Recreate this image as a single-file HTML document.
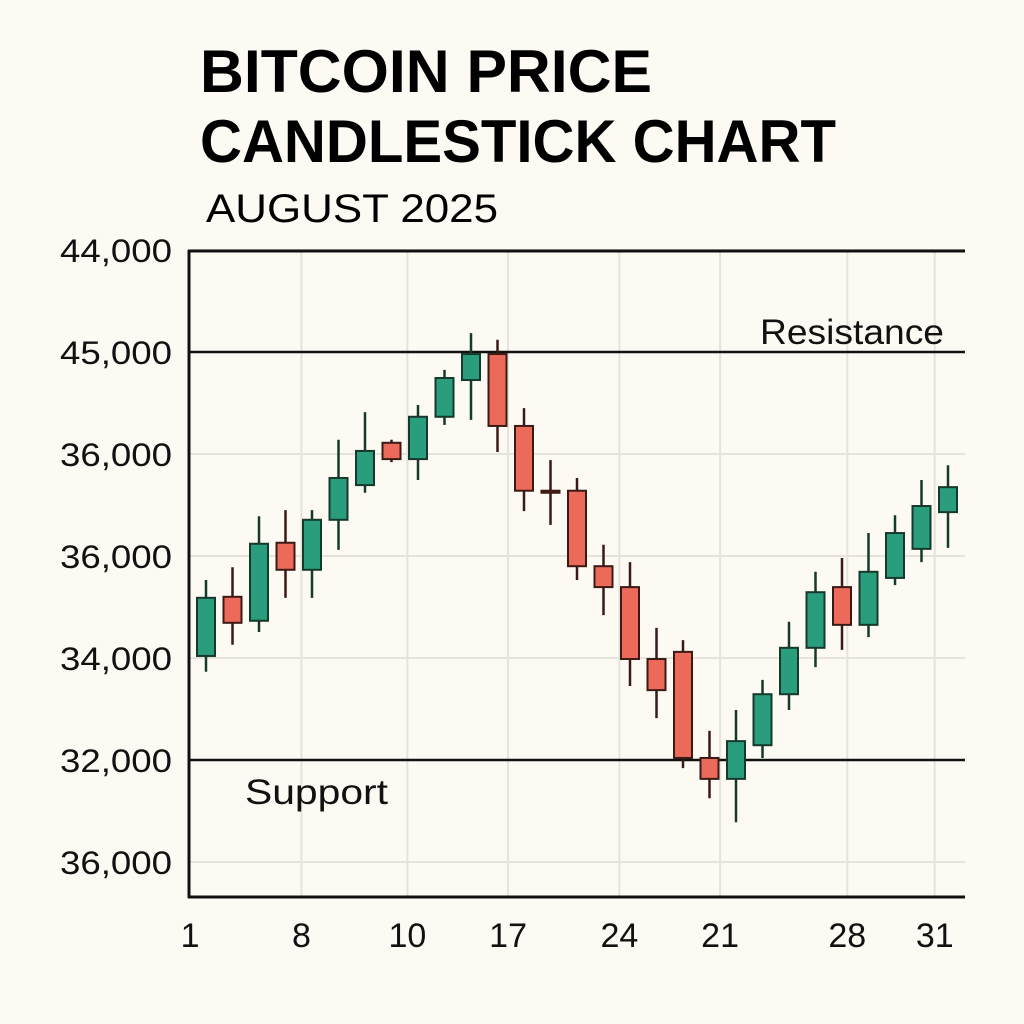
<!DOCTYPE html>
<html><head><meta charset="utf-8"><style>
html,body{margin:0;padding:0;background:#fdfaf4;}
svg{display:block;font-family:"Liberation Sans","DejaVu Sans",sans-serif;}
</style></head><body>
<svg id="chart" width="1024" height="1024" viewBox="0 0 1024 1024">
<rect x="0" y="0" width="1024" height="1024" fill="#fdfaf4"/>
<text x="200" y="92" font-size="60" font-weight="bold" fill="#000" textLength="452" lengthAdjust="spacingAndGlyphs">BITCOIN PRICE</text>
<text x="200" y="162" font-size="60" font-weight="bold" fill="#000" textLength="636" lengthAdjust="spacingAndGlyphs">CANDLESTICK CHART</text>
<text x="206" y="222" font-size="40" fill="#000" textLength="292" lengthAdjust="spacingAndGlyphs">AUGUST 2025</text>
<g id="grid"></g>
<g id="axes"></g>
<g id="candles"></g>
<g id="labels"></g>
</svg>
<script>
// y tick internal values and printed labels
const yTickValues = [42000, 40000, 38000, 36000, 34000, 32000, 30000];
const yTickLabels = ["44,000", "45,000", "36,000", "36,000", "34,000", "32,000", "36,000"];
// x tick positions (in candle index units) and labels
const xTickIndex = [-0.6, 3.6, 7.6, 11.4, 15.6, 19.4, 24.2, 27.5];
const xTickLabels = ["1", "8", "10", "17", "24", "21", "28", "31"];
// OHLC series
const opens  = [34040,35200,34730,36260,35730,36710,37390,38220,37900,38730,39450,39960,38550,37280,37280,35800,35390,33980,34120,32040,31630,32290,33290,34200,35390,34650,35570,36140,36860];
const closes = [35180,34690,36240,35730,36710,37530,38060,37900,38730,39490,39960,38550,37280,37240,35800,35390,33980,33370,32040,31630,32370,33290,34200,35290,34650,35690,36450,36980,37350];
const highs  = [35530,35780,36780,36900,36900,38280,38820,38280,38960,39650,40370,40240,38900,37880,37530,36220,35880,34590,34350,32570,32980,33570,34710,35690,35960,36450,36800,37490,37780];
const lows   = [33730,34260,34510,35180,35180,36120,37240,37840,37490,38570,38670,38040,36880,36610,35530,34840,33450,32820,31840,31250,30780,32040,32980,33820,34160,34410,35430,35880,36160];
const supportLevel = 32000;
const resistanceLevel = 40000;

const NS = "http://www.w3.org/2000/svg";
function yScale(v){ return 760 - (v - 32000) / 2000 * 102; }
function xScale(i){ return 206 + i * 26.5; }
function mk(tag, attrs, parent){
  const e = document.createElementNS(NS, tag);
  for (const k in attrs) e.setAttribute(k, attrs[k]);
  parent.appendChild(e);
  return e;
}
const grid = document.getElementById('grid');
const axes = document.getElementById('axes');
const candles = document.getElementById('candles');
const labels = document.getElementById('labels');

yTickValues.forEach((v, i) => {
  const y = yScale(v);
  const l = mk('line', {x1:189, x2:965, y1:y, y2:y, stroke:'#e6e2dc', 'stroke-width':2}, grid);
  
  
  const t = mk('text', {x:60, y:y+12, 'font-size':32, fill:'#111', textLength:112, lengthAdjust:'spacingAndGlyphs'}, labels);
  t.textContent = yTickLabels[i];
  
  
});
xTickIndex.forEach((xi, i) => {
  const x = xScale(xi);
  if (i > 0) {
    const l = mk('line', {x1:x, x2:x, y1:251, y2:897, stroke:'#e6e2dc', 'stroke-width':2}, grid);
    
    
  }
  const t = mk('text', {x:x, y:947, 'font-size':34, 'text-anchor':'middle', fill:'#111'}, labels);
  t.textContent = xTickLabels[i];
  
  
});

// axes
let a = mk('line', {x1:189, x2:189, y1:250, y2:898, stroke:'#111', 'stroke-width':3}, axes);


a = mk('line', {x1:188, x2:965, y1:897, y2:897, stroke:'#111', 'stroke-width':3}, axes);


a = mk('line', {x1:188, x2:965, y1:yScale(42000)+1, y2:yScale(42000)+1, stroke:'#111', 'stroke-width':3}, axes);


a = mk('line', {x1:188, x2:965, y1:yScale(resistanceLevel), y2:yScale(resistanceLevel), stroke:'#111', 'stroke-width':2.5}, axes);


a = mk('line', {x1:188, x2:965, y1:yScale(supportLevel), y2:yScale(supportLevel), stroke:'#111', 'stroke-width':2.5}, axes);



// candles
opens.forEach((o, i) => {
  const c = closes[i];
  const up = c >= o;
  const x = xScale(i);
  const g = mk('g', {}, candles);
  
  
  const dark = up ? '#15392b' : '#3b1a15';
  const w = mk('line', {x1:x, x2:x, y1:yScale(highs[i]), y2:yScale(lows[i]), stroke:dark, 'stroke-width':2.5}, g);
  
  
  const top = yScale(Math.max(o, c));
  const h = Math.max(2, Math.abs(yScale(o) - yScale(c)));
  const b = mk('rect', {x:x-9, y:top, width:18, height:h, fill: up ? '#2a9d7c' : '#ec6a5a', stroke:dark, 'stroke-width':2}, g);
  
  
});

let t = mk('text', {x:760, y:yScale(resistanceLevel)-8, 'font-size':35, fill:'#111', textLength:184, lengthAdjust:'spacingAndGlyphs'}, labels);
t.textContent = 'Resistance';


t = mk('text', {x:245, y:yScale(supportLevel)+44, 'font-size':35, fill:'#111', textLength:143, lengthAdjust:'spacingAndGlyphs'}, labels);
t.textContent = 'Support';


</script>
</body></html>
